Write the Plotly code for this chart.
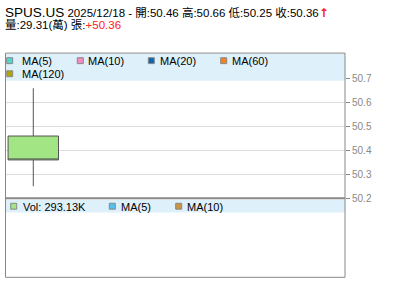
import plotly.graph_objects as go

# ---- data ----
symbol = "SPUS.US"
dates = ["2025/12/18"]
open_ = [50.46]
high = [50.66]
low = [50.25]
close = [50.36]
volume_k = [293.13]          # thousand shares
volume_wan = [29.31]         # 萬
change = [50.36]
price_ticks = [50.2, 50.3, 50.4, 50.5, 50.6, 50.7]
ma_labels = ["MA(5)", "MA(10)", "MA(20)", "MA(60)", "MA(120)"]
ma_colors = ["#4fd6cf", "#f48cc1", "#0b65b5", "#f58220", "#b5a300"]
vol_labels = ["MA(5)", "MA(10)"]
vol_colors = ["#54c2ef", "#c99445"]
vol_color = "#a2e584"

W, H = 400, 301
FONT = "Liberation Sans, Arial, Noto Sans CJK TC, sans-serif"

def fx(x):
    return x / W

def fy(y):
    return 1 - y / H

# layout geometry (pixels)
L, R = 5.5, 345
MAIN_T, MAIN_B = 54, 202
VOL_T, VOL_B = 202, 282

# value range from pixel mapping: 50.7 @ y=80, 50.2 @ y=201.5
ppu = (201.5 - 80) / 0.5
y_top = 50.7 + (80 - MAIN_T) / ppu
y_bot = 50.2 - (MAIN_B - 201.5) / ppu

fig = go.Figure()
fig.add_trace(go.Candlestick(
    x=[0], open=open_, high=high, low=low, close=close,
    increasing=dict(fillcolor=vol_color, line=dict(color="#555555", width=1)),
    decreasing=dict(fillcolor=vol_color, line=dict(color="#555555", width=1)),
    whiskerwidth=0, hoverinfo="skip", showlegend=False,
    xaxis="x", yaxis="y",
))

fig.update_layout(
    width=W, height=H, margin=dict(l=0, r=0, t=0, b=0),
    paper_bgcolor="white", plot_bgcolor="white",
    font=dict(family=FONT, size=11, color="#000"),
    showlegend=False,
    xaxis=dict(domain=[fx(L), fx(R)], range=[-0.270, 3.029], showticklabels=False,
               showgrid=False, zeroline=False, rangeslider=dict(visible=False),
               fixedrange=True),
    yaxis=dict(domain=[fy(MAIN_B), fy(MAIN_T)], range=[y_bot, y_top], side="right",
               tickvals=price_ticks, ticktext=[f"{v:.1f}" for v in price_ticks],
               ticks="outside", ticklen=4, tickcolor="#888", showgrid=True,
               gridcolor="#dddddd", gridwidth=1, zeroline=False,
               tickfont=dict(size=10, color="#888"), showline=False),
    xaxis2=dict(domain=[fx(L), fx(R)], range=[0, 1], visible=False, anchor="y2"),
    yaxis2=dict(domain=[fy(VOL_B), fy(VOL_T)], range=[0, 1], visible=False, anchor="x2"),
)

shapes = []
# legend bands
shapes.append(dict(type="rect", xref="paper", yref="paper", x0=fx(L), x1=fx(R),
                   y0=fy(82), y1=fy(55), fillcolor="#def0fa", line=dict(width=0), layer="above"))
shapes.append(dict(type="rect", xref="paper", yref="paper", x0=fx(L), x1=fx(R),
                   y0=fy(216), y1=fy(203), fillcolor="#def0fa", line=dict(width=0), layer="above"))
# borders
for (x0, y0, x1, y1, w) in [
    (L, MAIN_T, R, MAIN_T, 1), (L, MAIN_T, L, VOL_B, 1), (R, MAIN_T, R, VOL_B, 1),
    (L, VOL_B, R, VOL_B, 1), (L, 201.7, R, 201.7, 2)]:
    shapes.append(dict(type="line", xref="paper", yref="paper", x0=fx(x0), x1=fx(x1),
                       y0=fy(y0), y1=fy(y1), line=dict(color="#888888", width=w), layer="above"))

annotations = []

def swatch(x, yc, color):
    shapes.append(dict(type="rect", xref="paper", yref="paper", x0=fx(x), x1=fx(x + 6),
                       y0=fy(yc + 3), y1=fy(yc - 3), fillcolor=color,
                       line=dict(color="#888888", width=1), layer="above"))

def label(x, yc, text, size=11, color="#000"):
    annotations.append(dict(xref="paper", yref="paper", x=fx(x), y=fy(yc), text=text,
                            showarrow=False, xanchor="left", yanchor="middle",
                            font=dict(size=size, color=color, family=FONT), borderpad=0))

# main legend
main_pos = [(6.7, 61.7, 20.7), (77.3, 61.7, 87.3), (148.3, 61.7, 159.3), (220.7, 61.7, 231), (6.7, 75, 20.7)]
for (sx, yc, tx), lab, col in zip(main_pos, ma_labels, ma_colors):
    swatch(sx, yc, col)
    label(tx, yc + 0.5, lab)

# volume legend
swatch(10.7, 209.7, vol_color)
label(21.5, 210.2, f"Vol: {volume_k[0]:.2f}K")
for (sx, tx), lab, col in zip([(109.3, 120), (175.7, 186)], vol_labels, vol_colors):
    swatch(sx, 209.7, col)
    label(tx, 210.2, lab)

# header
line1 = (f"<span style='font-size:13.5px'>{symbol}</span> {dates[0]} - "
         f"開:{open_[0]:.2f} 高:{high[0]:.2f} 低:{low[0]:.2f} 收:{close[0]:.2f}"
         f"<span style='color:#ff2020;font-size:12px;font-family:DejaVu Sans'><b>↑</b></span>")
label(4, 12.5, line1, size=11.5)
line2 = f"量:{volume_wan[0]:.2f}(萬) 張:<span style='color:#ff2020'>+{change[0]:.2f}</span>"
label(4, 25.5, line2, size=11.5)

fig.update_layout(shapes=shapes, annotations=annotations)
fig.write_html("out.html")
